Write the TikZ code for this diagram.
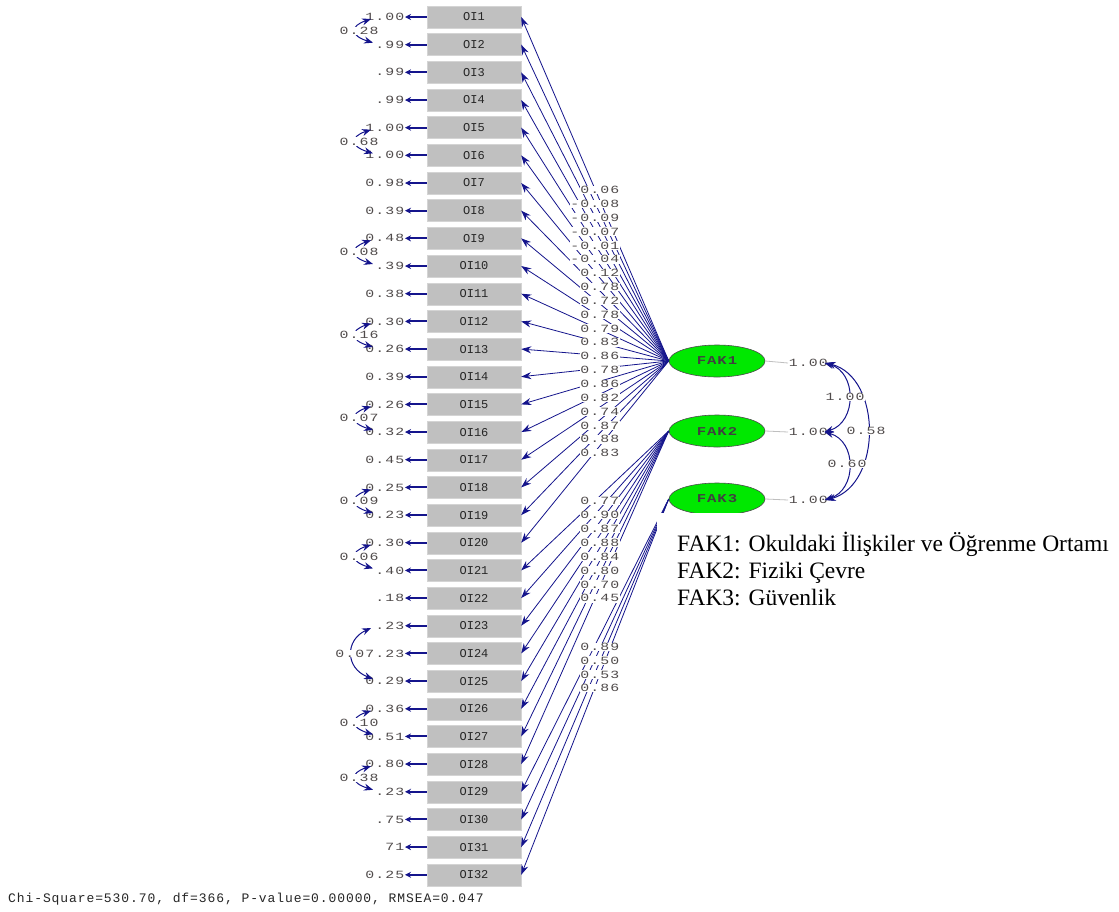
\documentclass[tikz,border=0pt]{standalone}
\usepackage{fontspec}
\setmainfont{Liberation Serif}
\newfontfamily\lis[FakeStretch=1.35,LetterSpace=10]{Liberation Mono}
\newfontfamily\lisfak[FakeStretch=1.3,LetterSpace=8]{Liberation Mono}
\newfontfamily\lisbox{Liberation Mono}
\newfontfamily\lisbot[LetterSpace=7]{Liberation Mono}
\usetikzlibrary{arrows.meta,shapes.geometric}
\definecolor{lnavy}{RGB}{20,20,140}
\definecolor{boxgray}{RGB}{192,192,192}
\definecolor{fakgreen}{RGB}{0,232,0}
\definecolor{numgray}{RGB}{80,75,75}
\begin{document}
\begin{tikzpicture}[x=1pt,y=-1pt,
  item/.style={draw={rgb,255:red,212;green,212;blue,212}, fill=boxgray, minimum width=94pt, minimum height=22pt, inner sep=0pt, font=\lisbox\fontsize{12}{12}\selectfont, text=black!85},
  fac/.style={ellipse, draw=black!70, line width=0.6pt, fill=fakgreen, minimum width=96pt, minimum height=32pt, inner sep=0pt, font=\lisfak\bfseries\fontsize{12}{12}\selectfont, text=black!75},
  num/.style={text=numgray, font=\lis\fontsize{11}{11}\selectfont, inner sep=0.6pt},
  load/.style={draw=lnavy, line width=0.8pt, -{Stealth[length=10pt,width=7pt]}},
  errarr/.style={draw=lnavy, line width=2pt, -{Stealth[length=6pt,width=6pt]}},
  cov/.style={draw=lnavy, line width=1pt, {Stealth[length=9pt,width=7pt]}-{Stealth[length=9pt,width=7pt]}},
  legend/.style={font=\fontsize{23.5}{23.5}\selectfont, inner sep=0pt, anchor=base west}
]
\useasboundingbox (0,0) rectangle (1119,911);
\fill[white] (0,0) rectangle (1119,911);

% items
\foreach \i in {1,...,32} {
  \node[item] (b\i) at (474,{17+(\i-1)*27.67}) {OI\i};
}

% factors
\node[fac] (F1) at (717,361) {FAK1};
\node[fac] (F2) at (717,431) {FAK2};
\node[fac] (F3) at (717,499) {FAK3};

% loadings
\foreach \i in {1,...,20} { \draw[load] (F1.west) -- (b\i.east); }
\foreach \i in {21,...,28} { \draw[load] (F2.west) -- (b\i.east); }
\foreach \i in {29,...,32} { \draw[load] (F3.west) -- (b\i.east); }

\foreach \v [count=\k from 0] in {0.06,-0.08,-0.09,-0.07,-0.01,-0.04,0.12,0.78,0.72,0.78,0.79,0.83,0.86,0.78,0.86,0.82,0.74,0.87,0.88,0.83} {
  \node[num, fill=white, anchor=east] (la\k) at (620,{190+\k*13.85}) {\v};
}
\foreach \v [count=\k from 0] in {0.77,0.90,0.87,0.88,0.84,0.80,0.70,0.45} {
  \node[num, fill=white, anchor=east] (lb\k) at (620,{501+\k*13.9}) {\v};
}
\foreach \v [count=\k from 0] in {0.89,0.50,0.53,0.86} {
  \node[num, fill=white, anchor=east] (lc\k) at (620,{647+\k*13.7}) {\v};
}

% error variances
\foreach \i/\v in {1/1.00,2/.99,3/.99,4/.99,5/1.00,6/1.00,7/0.98,8/0.39,9/0.48,10/.39,11/0.38,12/0.30,13/0.26,14/0.39,15/0.26,16/0.32,17/0.45,18/0.25,19/0.23,20/0.30,21/.40,22/.18,23/.23,24/.23,25/0.29,26/0.36,27/0.51,28/0.80,29/.23,30/.75,31/71,32/0.25} {
  \node[num, anchor=east] (e\i) at (405,{17+(\i-1)*27.67}) {\v};
  \draw[errarr] (b\i.west) -- (e\i.east);
}

% error covariances
\foreach \a/\b/\v in {1/2/0.28,5/6/0.68,9/10/0.08,12/13/0.16,15/16/0.07,18/19/0.09,20/21/0.06,26/27/0.10,28/29/0.38} {
  \pgfmathsetmacro\ya{17+(\a-1)*27.67}
  \pgfmathsetmacro\yb{17+(\b-1)*27.67}
  \coordinate (p\a) at (371,\ya+2);
  \coordinate (q\a) at (373,\yb-2);
  \draw[cov] (p\a) .. controls (350,\ya+9) and (350,\yb-9) .. (q\a);
  \node[num, fill=white] (c\a) at (359,{(\ya+\yb)/2}) {\v};
}
\coordinate (p23) at (371,628);
\coordinate (q23) at (373,679);
\draw[cov] (p23) .. controls (345,640) and (345,668) .. (q23);
\node[num, fill=white, anchor=east, inner sep=0pt] (c23) at (e24.west) {0.07};

% factor variances
\node[num, anchor=west] (v1) at (788,363) {1.00};
\node[num, anchor=west] (v2) at (788,432) {1.00};
\node[num, anchor=west] (v3) at (788,500) {1.00};
\draw[gray!50, line width=0.8pt] (F1.east) -- (v1.west);
\draw[gray!50, line width=0.8pt] (F2.east) -- (v2.west);
\draw[gray!50, line width=0.8pt] (F3.east) -- (v3.west);

% factor covariances
\draw[cov] ([xshift=-4pt]v1.east) .. controls (857,372) and (857,422) .. ([xshift=-4pt]v2.east);
\draw[cov] ([xshift=-4pt]v2.east) .. controls (857,441) and (857,490) .. ([xshift=-4pt]v3.east);
\draw[cov] ([xshift=-2pt]v1.east) .. controls (882,378) and (882,484) .. ([xshift=-2pt]v3.east);
\node[num, fill=white] (r12) at (845,397) {1.00};
\node[num, fill=white] (r23) at (847,464) {0.60};
\node[num, fill=white] (r13) at (866,431) {0.58};

% legend
\fill[white] (657,513) rectangle (1119,616);
\node[legend] (leg1) at (677,551) {FAK1: Okuldaki İlişkiler ve Öğrenme Ortamı};
\node[legend] (leg2) at (677,578) {FAK2: Fiziki Çevre};
\node[legend] (leg3) at (677,605) {FAK3: Güvenlik};

% statistics
\node[anchor=west, inner sep=0pt, font=\lisbot\fontsize{13}{13}\selectfont, text=black!85] (stat) at (8,899) {Chi-Square=530.70, df=366, P-value=0.00000, RMSEA=0.047};
\end{tikzpicture}
\end{document}
